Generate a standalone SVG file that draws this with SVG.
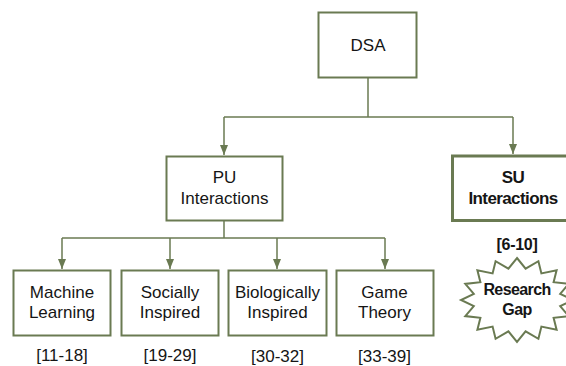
<svg xmlns="http://www.w3.org/2000/svg" width="566" height="366" viewBox="0 0 566 366">
<style>
.box{fill:#fff;stroke:#6a7a52;stroke-width:2}
.bold{fill:#fff;stroke:#6a7a52;stroke-width:3}
.con{fill:none;stroke:#6a7a52;stroke-width:1.5}
.t{font-family:"Liberation Sans",Arial,sans-serif;font-size:17px;fill:#151515;text-anchor:middle}
.tb{font-family:"Liberation Sans",Arial,sans-serif;font-size:16px;font-weight:bold;fill:#151515;text-anchor:middle;letter-spacing:-0.6px}
</style>
<defs>
<marker id="ah" markerUnits="userSpaceOnUse" markerWidth="10" markerHeight="10" viewBox="0 0 10 10" refX="10" refY="5" orient="auto">
<path d="M0,1 L10,5 L0,9 Z" fill="#6a7a52"/>
</marker>
</defs>
<rect width="566" height="366" fill="#fff"/>
<g id="connectors">
<path class="con" d="M368 78 V117"/>
<path class="con" d="M224 117 H513"/>
<path class="con" d="M224 117 V155" marker-end="url(#ah)"/>
<path class="con" d="M513 117 V154" marker-end="url(#ah)"/>
<path class="con" d="M224 221 V238"/>
<path class="con" d="M62 238 H385"/>
<path class="con" d="M62 238 V269" marker-end="url(#ah)"/>
<path class="con" d="M170 238 V269" marker-end="url(#ah)"/>
<path class="con" d="M277 238 V269" marker-end="url(#ah)"/>
<path class="con" d="M385 238 V269" marker-end="url(#ah)"/>
</g>
<g id="dsa">
<rect class="box" x="318.5" y="12.5" width="98" height="65"/>
<text class="t" x="368" y="51">DSA</text>
</g>
<g id="pu">
<rect class="box" x="166.5" y="156.5" width="116" height="64"/>
<text class="t" x="224.5" y="183">PU</text>
<text class="t" x="224.5" y="204">Interactions</text>
</g>
<g id="su">
<rect class="bold" x="452.5" y="156" width="121" height="64.5"/>
<text class="tb" x="513" y="183" style="font-size:17px">SU</text>
<text class="tb" x="513" y="204" style="font-size:17px">Interactions</text>
<text class="tb" x="517" y="250" style="letter-spacing:-0.3px">[6-10]</text>
</g>
<g id="research-gap">
<polygon class="box" points="517,258 525.6,268.6 538.4,261.2 541.4,273.4 556.6,270.3 553.6,282.2 568.7,283.9 560.2,293.8 573,300 560.2,306.2 568.7,316.1 553.6,317.8 556.6,329.7 541.4,326.6 538.4,338.8 525.6,331.4 517,342 508.4,331.4 495.6,338.8 492.6,326.6 477.4,329.7 480.4,317.8 465.3,316.1 473.8,306.2 461,300 473.8,293.8 465.3,283.9 480.4,282.2 477.4,270.3 492.6,273.4 495.6,261.2 508.4,268.6"/>
<text class="tb" x="517" y="295">Research</text>
<text class="tb" x="517" y="315">Gap</text>
</g>
<g id="ml">
<rect class="box" x="13.5" y="270.5" width="97" height="65"/>
<text class="t" x="62" y="298">Machine</text>
<text class="t" x="62" y="318">Learning</text>
<text class="t" x="62" y="361">[11-18]</text>
</g>
<g id="social">
<rect class="box" x="121.5" y="270.5" width="97" height="65"/>
<text class="t" x="170" y="298">Socially</text>
<text class="t" x="170" y="318">Inspired</text>
<text class="t" x="170" y="361">[19-29]</text>
</g>
<g id="bio">
<rect class="box" x="228.5" y="270.5" width="98" height="65"/>
<text class="t" x="277.5" y="298">Biologically</text>
<text class="t" x="277.5" y="318">Inspired</text>
<text class="t" x="277.5" y="362">[30-32]</text>
</g>
<g id="game">
<rect class="box" x="336.5" y="270.5" width="97" height="65"/>
<text class="t" x="384.5" y="298">Game</text>
<text class="t" x="384.5" y="318">Theory</text>
<text class="t" x="384.5" y="362">[33-39]</text>
</g>
</svg>
